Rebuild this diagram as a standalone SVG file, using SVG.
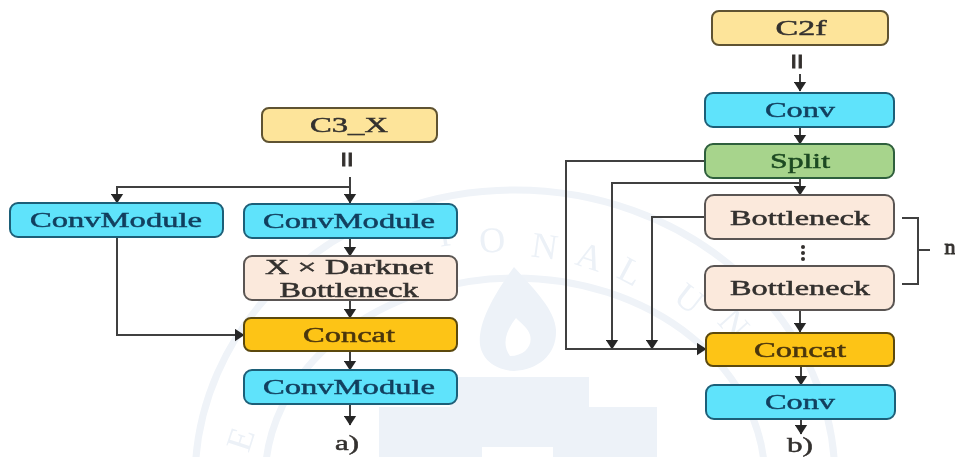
<svg xmlns="http://www.w3.org/2000/svg" width="955" height="457" viewBox="0 0 955 457">
<style>
text{font-family:"Liberation Serif","Times New Roman",serif;text-anchor:middle;fill:#33302e;stroke:#33302e;stroke-width:.5}
.lbl{font-size:22px}
.lbl2{font-size:20px}
.cy{fill:#5ee3fb;stroke:#1f5f78}
.ye{fill:#fde49a;stroke:#5e5230}
.pe{fill:#fbe9dc;stroke:#5a5552}
.or{fill:#fdc414;stroke:#5c4a10}
.gr{fill:#a7d48c;stroke:#2f5f3c}
.n{stroke-width:2}
text.cyt{fill:#123f5e;stroke:#123f5e}
text.grt{fill:#1d4a22;stroke:#1d4a22}
text.ort{fill:#4a3510;stroke:#4a3510}
text.eq{font-family:"Liberation Sans",Arial,sans-serif;font-size:19px;stroke-width:.9}
text.wm{font-size:36px;fill:#ecf1f7;stroke:none}
.w{fill:none;stroke:#eff3f8}
.wf{fill:#edf2f8}
.c{fill:none;stroke:#404040;stroke-width:2}
</style>
<defs>
<marker id="a" viewBox="0 0 10 13" refX="9.5" refY="6.5" markerWidth="10" markerHeight="13" markerUnits="userSpaceOnUse" orient="auto"><path d="M0 0L10 6.5L0 13Z" fill="#262626"/></marker>
<filter id="soft" filterUnits="userSpaceOnUse" x="0" y="0" width="955" height="457"><feGaussianBlur stdDeviation="0.5"/></filter>
</defs>
<rect width="955" height="457" fill="#fff"/>
<g filter="url(#soft)">
<g id="watermark">
<ellipse cx="515" cy="480" rx="320" ry="290" class="w" stroke-width="7"/>
<ellipse cx="515" cy="480" rx="250" ry="202" class="w" stroke-width="7"/>
<path class="wf" d="M514 267C490 300 478 325 480 345C483 362 498 370 514 371C538 370 557 355 556 330C555 310 535 290 514 267ZM516 318C505 332 502 345 510 356C525 356 533 345 530 335C528 328 522 324 516 318Z" fill-rule="evenodd"/>
<path class="wf" d="M379 407H450V377H589V407H657V457H553V447H482V457H379Z"/>
<text class="wm" transform="translate(446 246) rotate(-8)">I</text>
<text class="wm" transform="translate(493 252) rotate(-4)">O</text>
<text class="wm" transform="translate(543 258) rotate(8)">N</text>
<text class="wm" transform="translate(586 268) rotate(18)">A</text>
<text class="wm" transform="translate(625 282) rotate(28)">L</text>
<text class="wm" transform="translate(682 308) rotate(38)">U</text>
<text class="wm" transform="translate(725 332) rotate(48)">N</text>
<text class="wm" transform="translate(252 443) rotate(-72)">E</text>
</g>
<g id="connectors">
<path class="c" d="M350 177V203" marker-end="url(#a)"/>
<path class="c" d="M350 187H117V203" marker-end="url(#a)"/>
<path class="c" d="M117 237V335H244" marker-end="url(#a)"/>
<path class="c" d="M350 238V256" marker-end="url(#a)"/>
<path class="c" d="M350 300V318" marker-end="url(#a)"/>
<path class="c" d="M350 351V370" marker-end="url(#a)"/>
<path class="c" d="M350 404V425" marker-end="url(#a)"/>
<path class="c" d="M800 74V91" marker-end="url(#a)"/>
<path class="c" d="M800 127V144" marker-end="url(#a)"/>
<path class="c" d="M800 178V195" marker-end="url(#a)"/>
<path class="c" d="M800 183H612V349" marker-end="url(#a)"/>
<path class="c" d="M705 217H652V349" marker-end="url(#a)"/>
<path class="c" d="M705 161H566V349H706" marker-end="url(#a)"/>
<path class="c" d="M800 310V332" marker-end="url(#a)"/>
<path class="c" d="M801 366V385" marker-end="url(#a)"/>
<path class="c" d="M801 419V434" marker-end="url(#a)"/>
<path class="c" d="M902 218H918V284H902M918 250H930"/>
</g>
<g id="c3x"><rect class="ye n" x="262" y="108" width="175" height="34" rx="7"/><text class="lbl" x="349" y="132" textLength="78" lengthAdjust="spacingAndGlyphs">C3_X</text></g>
<g id="conv-left"><rect class="cy n" x="10" y="203" width="213" height="34" rx="8"/><text class="lbl cyt" x="116" y="227" textLength="172" lengthAdjust="spacingAndGlyphs">ConvModule</text></g>
<g id="conv-right"><rect class="cy n" x="244" y="204" width="213" height="34" rx="8"/><text class="lbl cyt" x="349" y="228" textLength="172" lengthAdjust="spacingAndGlyphs">ConvModule</text></g>
<g id="darknet"><rect class="pe n" x="244" y="256" width="213" height="44" rx="8"/><text class="lbl2" x="349" y="274" textLength="168" lengthAdjust="spacingAndGlyphs">X × Darknet</text><text class="lbl2" x="349" y="297" textLength="139" lengthAdjust="spacingAndGlyphs">Bottleneck</text></g>
<g id="concat-a"><rect class="or n" x="244" y="318" width="213" height="33" rx="7"/><text class="lbl ort" x="349" y="342" textLength="92" lengthAdjust="spacingAndGlyphs">Concat</text></g>
<g id="conv-out"><rect class="cy n" x="244" y="370" width="213" height="34" rx="8"/><text class="lbl cyt" x="349" y="394" textLength="172" lengthAdjust="spacingAndGlyphs">ConvModule</text></g>
<g id="label-a"><text class="lbl" x="347" y="450" textLength="24" lengthAdjust="spacingAndGlyphs">a)</text></g>
<g id="eq-a"><text class="eq" x="347" y="166" textLength="13" lengthAdjust="spacingAndGlyphs">II</text></g>
<g id="c2f"><rect class="ye n" x="712" y="11" width="176" height="34" rx="7"/><text class="lbl" x="801" y="35" textLength="51" lengthAdjust="spacingAndGlyphs">C2f</text></g>
<g id="eq-b"><text class="eq" x="797" y="68" textLength="13" lengthAdjust="spacingAndGlyphs">II</text></g>
<g id="conv-b1"><rect class="cy n" x="705" y="93" width="189" height="34" rx="8"/><text class="lbl cyt" x="800" y="117" textLength="70" lengthAdjust="spacingAndGlyphs">Conv</text></g>
<g id="split"><rect class="gr n" x="705" y="144" width="189" height="34" rx="8"/><text class="lbl grt" x="800" y="168" textLength="60" lengthAdjust="spacingAndGlyphs">Split</text></g>
<g id="bn1"><rect class="pe n" x="705" y="195" width="189" height="44" rx="9"/><text class="lbl" x="800" y="225" textLength="140" lengthAdjust="spacingAndGlyphs">Bottleneck</text></g>
<g id="dots" fill="#33302e"><circle cx="803" cy="247" r="2"/><circle cx="803" cy="253" r="2"/><circle cx="803" cy="259" r="2"/></g>
<g id="bn2"><rect class="pe n" x="705" y="266" width="189" height="44" rx="9"/><text class="lbl" x="800" y="295" textLength="140" lengthAdjust="spacingAndGlyphs">Bottleneck</text></g>
<g id="concat-b"><rect class="or n" x="706" y="333" width="188" height="33" rx="7"/><text class="lbl ort" x="800" y="357" textLength="92" lengthAdjust="spacingAndGlyphs">Concat</text></g>
<g id="conv-b2"><rect class="cy n" x="706" y="385" width="189" height="34" rx="8"/><text class="lbl cyt" x="800" y="409" textLength="70" lengthAdjust="spacingAndGlyphs">Conv</text></g>
<g id="label-b"><text class="lbl" x="800" y="452" textLength="26" lengthAdjust="spacingAndGlyphs">b)</text></g>
<g id="n-label"><text class="lbl" x="950" y="254" style="stroke-width:1">n</text></g>
</g>
</svg>
